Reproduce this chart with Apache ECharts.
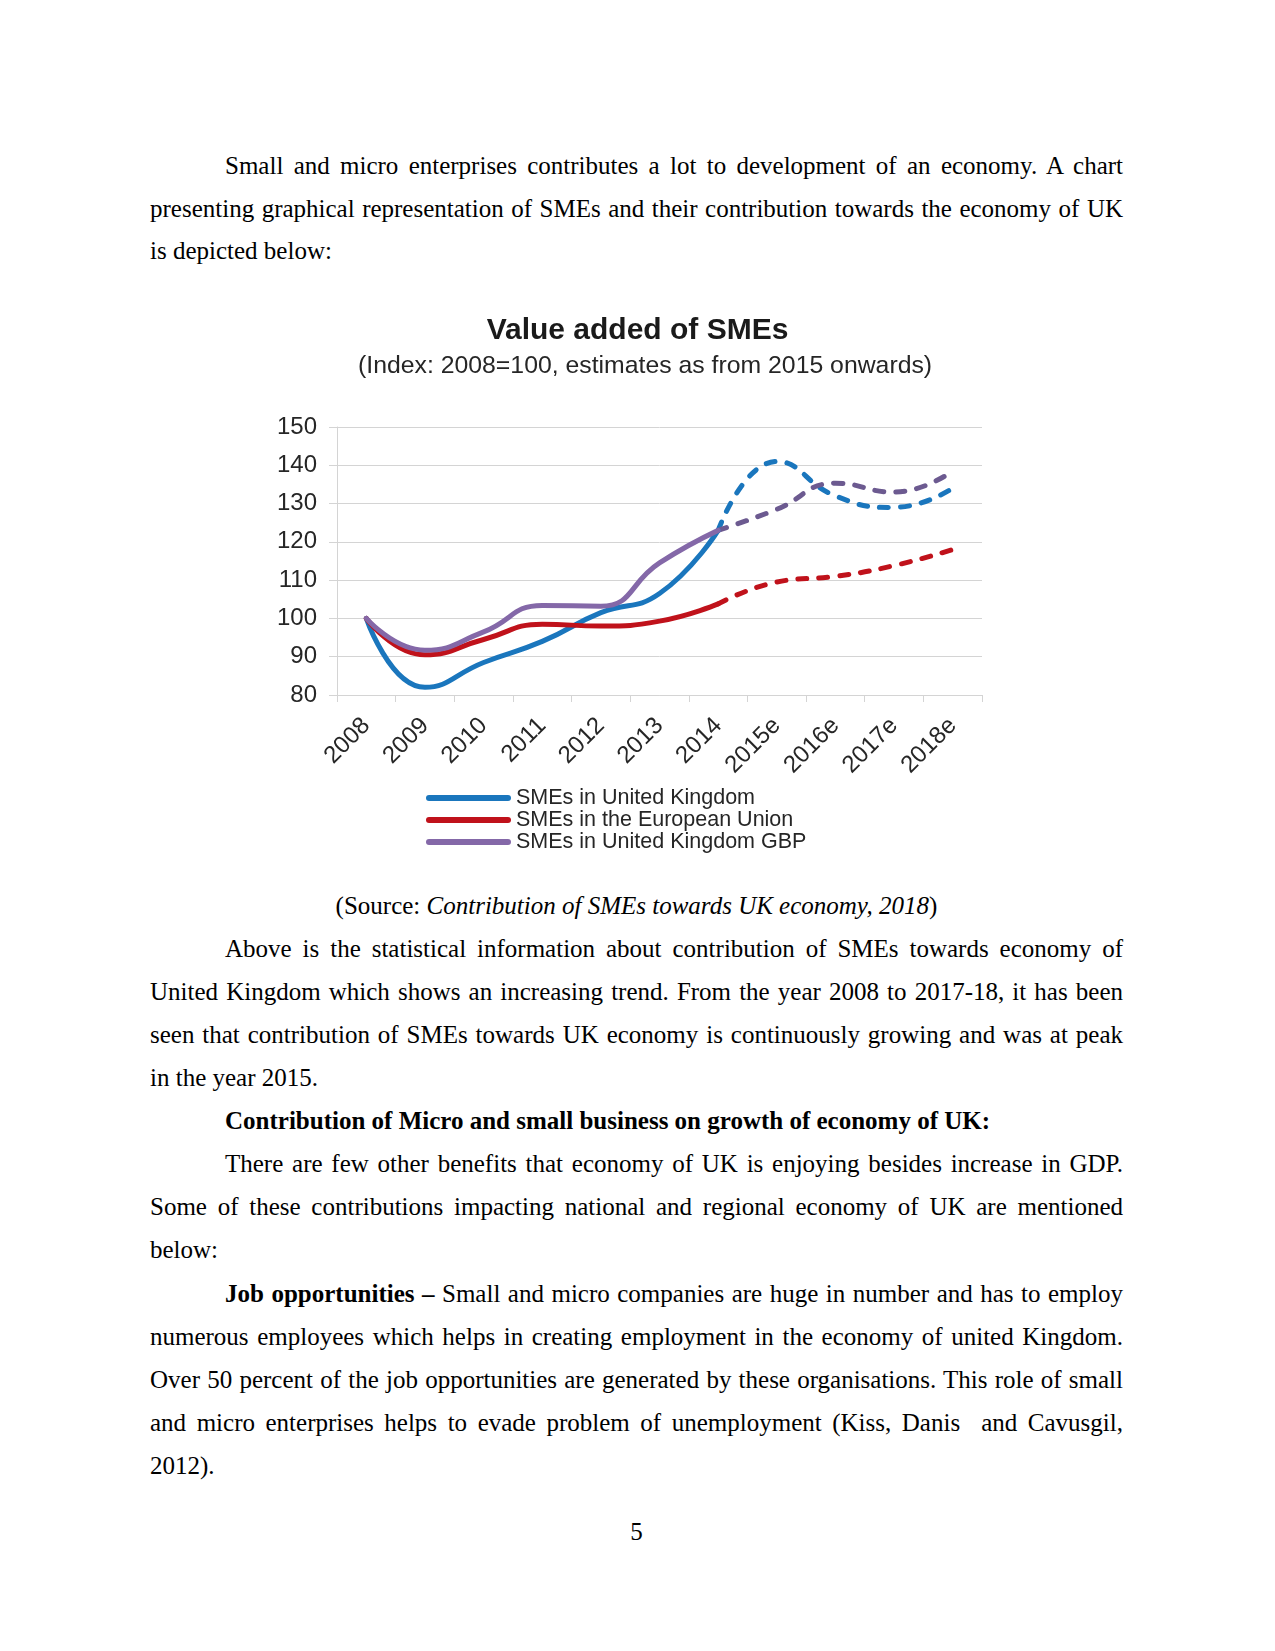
<!DOCTYPE html>
<html>
<head>
<meta charset="utf-8">
<script src="https://cdn.jsdelivr.net/npm/echarts@6/dist/echarts.min.js"></script>
<style>
  html, body { margin: 0; padding: 0; background: #fff; }
  #page { position: relative; width: 1275px; height: 1651px; background: #fff; overflow: hidden;
          font-family: "Liberation Serif", "Times New Roman", serif; font-size: 25px; color: #000; }
  .ln { position: absolute; height: 43px; line-height: 43px; white-space: nowrap; }
  .j { text-align: justify; text-align-last: justify; white-space: normal; }
  .full { left: 150px; width: 973px; }
  .ind { left: 225px; width: 898px; }
  .ctr { left: 150px; width: 973px; text-align: center; }
  #chart { position: absolute; left: 0; top: 280px; width: 1275px; height: 580px; }
</style>
</head>
<body>
<div id="page">
  <div class="ln ind j" style="top:144px">Small and micro enterprises contributes a lot to development of an economy. A chart</div>
  <div class="ln full j" style="top:187px">presenting graphical representation of SMEs and their contribution towards the economy of UK</div>
  <div class="ln full" style="top:229px">is depicted below:</div>

  <div id="chart"></div>

  <div class="ln ctr" style="top:884px">(Source: <i>Contribution of SMEs towards UK economy, 2018</i>)</div>
  <div class="ln ind j" style="top:927px">Above is the statistical information about contribution of SMEs towards economy of</div>
  <div class="ln full j" style="top:970px">United Kingdom which shows an increasing trend. From the year 2008 to 2017-18, it has been</div>
  <div class="ln full j" style="top:1013px">seen that contribution of SMEs towards UK economy is continuously growing and was at peak</div>
  <div class="ln full" style="top:1056px">in the year 2015.</div>
  <div class="ln ind" style="top:1099px"><b>Contribution of Micro and small business on growth of economy of UK:</b></div>
  <div class="ln ind j" style="top:1142px">There are few other benefits that economy of UK is enjoying besides increase in GDP.</div>
  <div class="ln full j" style="top:1185px">Some of these contributions impacting national and regional economy of UK are mentioned</div>
  <div class="ln full" style="top:1228px">below:</div>
  <div class="ln ind j" style="top:1272px"><b>Job opportunities –</b> Small and micro companies are huge in number and has to employ</div>
  <div class="ln full j" style="top:1315px">numerous employees which helps in creating employment in the economy of united Kingdom.</div>
  <div class="ln full j" style="top:1358px">Over 50 percent of the job opportunities are generated by these organisations. This role of small</div>
  <div class="ln full j" style="top:1401px">and micro enterprises helps to evade problem of unemployment (Kiss, Danis &nbsp;and Cavusgil,</div>
  <div class="ln full" style="top:1444px">2012).</div>
  <div class="ln ctr" style="top:1510px">5</div>
</div>
<script>
// ---- data ----
var categories = ['2008', '2009', '2010', '2011', '2012', '2013', '2014', '2015e', '2016e', '2017e', '2018e'];
var ukValues  = [100, 82, 88.5, 94, 101.5, 106.5, 123, 141, 132, 129, 134];
var euValues  = [100, 90.5, 94.5, 98.5, 98, 99.3, 103.8, 109.5, 111, 113.8, 118];
var gbpValues = [100, 91.7, 96.5, 103.4, 103.2, 114.5, 123, 128.5, 135.3, 133, 138.5];
var seriesNames = ['SMEs in United Kingdom', 'SMEs in the European Union', 'SMEs in United Kingdom GBP'];
var estimateStartIndex = 6; // last actual year (2014); dashed from here on
var yTicks = { min: 80, max: 150, interval: 10 };

function actualPart(arr) { return arr.map(function (v, i) { return i <= estimateStartIndex ? v : null; }); }
function estimatePart(arr) { return arr.map(function (v, i) { return i >= estimateStartIndex ? v : null; }); }

var colors = {
  uk: '#1a76bd',
  eu: '#c0121b',
  gbp: '#8468a8',
  gbpDash: '#6c5a90'
};

var FONT = 'Liberation Sans, Arial, sans-serif';

function solid(name, data, color) {
  return { name: name, type: 'line', data: data, smooth: 0.5, showSymbol: false, connectNulls: false,
    itemStyle: { color: color }, lineStyle: { color: color, width: 5, cap: 'round', join: 'round' }, z: 3 };
}
function dashed(name, data, color) {
  return { name: name, type: 'line', data: data, smooth: 0.5, showSymbol: false, connectNulls: false,
    itemStyle: { color: color }, lineStyle: { color: color, width: 5, type: [9, 12], cap: 'round' }, z: 2 };
}

var legendIcon = 'path://M3,0 L82,0 A3,3 0 0 1 82,6 L3,6 A3,3 0 0 1 3,0 Z';

var chart = echarts.init(document.getElementById('chart'), null, { renderer: 'canvas' });
chart.setOption({
  backgroundColor: 'transparent',
  animation: false,
  title: [
    { text: 'Value added of SMEs', left: 'center', top: 31,
      textStyle: { fontFamily: FONT, fontSize: 30, fontWeight: 'bold', color: '#1a1a1a' } },
    { text: '(Index: 2008=100, estimates as from 2015 onwards)', left: 353, top: 69,
      textStyle: { fontFamily: FONT, fontSize: 24.8, fontWeight: 'normal', color: '#262626' } }
  ],
  legend: {
    orient: 'vertical', left: 421, top: 502, itemGap: 0,
    itemWidth: 85, itemHeight: 6,
    data: seriesNames.map(function (n) { return { name: n, icon: legendIcon }; }),
    textStyle: { fontFamily: FONT, fontSize: 21.5, color: '#262626', lineHeight: 21.5 }
  },
  grid: { left: 337, right: 293, top: 147, bottom: 165, containLabel: false },
  xAxis: {
    type: 'category', data: categories, boundaryGap: true,
    axisLine: { show: true, lineStyle: { color: '#d4d4d4', width: 1 } },
    axisTick: { show: true, length: 7, alignWithLabel: false, lineStyle: { color: '#d4d4d4' } },
    axisLabel: { rotate: 45, margin: 27, fontFamily: FONT, fontSize: 24, color: '#262626', interval: 0 },
    splitLine: { show: false }
  },
  yAxis: {
    type: 'value', min: yTicks.min, max: yTicks.max, interval: yTicks.interval,
    axisLine: { show: true, lineStyle: { color: '#d4d4d4', width: 1 } },
    axisTick: { show: true, length: 8, lineStyle: { color: '#d4d4d4' } },
    axisLabel: { margin: 20, fontFamily: FONT, fontSize: 24, color: '#262626' },
    splitLine: { show: true, lineStyle: { color: '#d4d4d4', width: 1 } }
  },
  series: [
    solid(seriesNames[0], actualPart(ukValues), colors.uk),
    solid(seriesNames[1], actualPart(euValues), colors.eu),
    solid(seriesNames[2], actualPart(gbpValues), colors.gbp),
    dashed(seriesNames[0], estimatePart(ukValues), colors.uk),
    dashed(seriesNames[1], estimatePart(euValues), colors.eu),
    dashed(seriesNames[2], estimatePart(gbpValues), colors.gbpDash)
  ]
});
</script>
</body>
</html>
